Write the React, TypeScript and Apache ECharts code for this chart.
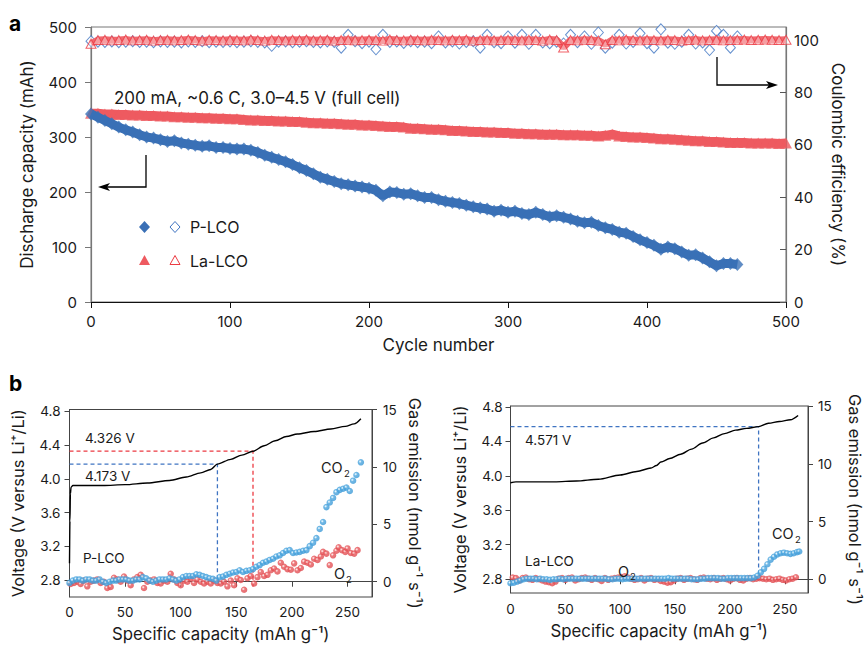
import React, { useEffect, useRef } from "react";
import * as echarts from "echarts";

const FONT = "Inter, 'Liberation Sans', sans-serif";

// ---------------- Panel a data ----------------
const cyclesP = Array.from({ length: 94 }, (_, i) => i * 5);
const cyclesLa = Array.from({ length: 101 }, (_, i) => i * 5);

const dischargeP = [
  342, 336, 330, 324, 318, 313, 309, 304, 300, 298,
  295, 292, 293, 289, 287, 285, 283, 284, 281, 281,
  279, 278, 278, 276, 272, 267, 263, 259, 255, 250,
  244, 239, 233, 227, 223, 219, 215, 213, 211, 209,
  207, 203, 193, 200, 199, 196, 197, 193, 190, 190,
  186, 183, 181, 179, 176, 173, 171, 169, 165, 167,
  163, 165, 161, 159, 163, 159, 155, 157, 154, 151,
  147, 144, 145, 139, 135, 132, 127, 125, 119, 113,
  108, 103, 96, 100, 97, 91, 85, 86, 80, 73,
  66, 70, 70, 68,
];

const dischargeLa = [
  343, 343, 342, 342, 341, 341, 340, 340, 339, 339,
  338, 338, 337, 337, 336, 336, 335, 335, 334, 334,
  333, 333, 332, 331, 331, 330, 330, 329, 329, 328,
  328, 327, 326, 326, 325, 325, 324, 323, 323, 322,
  322, 321, 320, 319, 319, 318, 316, 316, 315, 314,
  314, 313, 312, 312, 311, 310, 310, 309, 309, 308,
  308, 307, 307, 306, 306, 305, 305, 305, 304, 304,
  304, 303, 303, 302, 303, 305, 302, 301, 300, 300,
  299, 298, 297, 297, 296, 295, 294, 293, 293, 292,
  292, 291, 290, 290, 290, 289, 289, 289, 289, 288,
  289,
];

const ceP = [
  99.6, 99.4, 99.3, 99.5, 99.2, 99.4, 99.6, 99.3, 99.4, 99.2,
  99.5, 99.3, 99.4, 99.1, 99.5, 99.3, 99.6, 99.2, 99.4, 99.3,
  99.5, 99.2, 99.4, 99.6, 99.3, 99.1, 97.8, 99.4, 99.5, 99.2,
  99.4, 99.6, 99.3, 99.1, 99.5, 99.3, 97.1, 102.0, 99.6, 98.8,
  99.4, 96.5, 102.0, 99.3, 99.5, 98.9, 99.6, 99.2, 99.4, 98.8,
  101.4, 99.1, 99.5, 98.7, 99.3, 99.6, 97.1, 102.0, 99.2, 98.8,
  101.4, 99.0, 102.0, 98.6, 102.0, 99.1, 98.8, 99.4, 98.7, 102.0,
  99.2, 101.4, 98.6, 102.9, 97.1, 99.0, 102.0, 98.7, 99.3, 102.6,
  98.8, 97.1, 104.1, 99.0, 98.6, 99.4, 102.0, 98.7, 99.1, 96.2,
  103.5, 102.0, 97.1, 101.4,
];

const ceLa = [
  98.6, 100.0, 100.1, 99.9, 100.0, 100.2, 99.9, 100.0, 100.1, 99.8,
  100.0, 100.1, 99.9, 100.0, 100.2, 100.0, 99.8, 100.1, 100.0, 99.9,
  100.1, 100.0, 99.9, 100.2, 100.0, 99.8, 100.1, 100.0, 99.9, 100.1,
  100.0, 100.2, 99.9, 100.0, 100.1, 99.8, 100.0, 100.1, 99.9, 100.0,
  100.1, 100.0, 99.8, 100.2, 100.0, 99.9, 100.1, 100.0, 99.9, 100.1,
  100.0, 99.9, 100.1, 100.0, 100.2, 99.8, 100.0, 100.1, 99.9, 100.0,
  100.1, 100.0, 99.9, 100.1, 100.0, 99.8, 100.2, 100.0, 97.2, 100.0,
  99.9, 100.1, 100.0, 99.8, 98.4, 100.0, 99.9, 100.2, 100.0, 99.9,
  100.1, 100.0, 99.9, 100.1, 100.0, 99.8, 100.0, 100.2, 99.9, 100.0,
  100.1, 99.9, 100.0, 100.1, 100.2, 100.0, 100.1, 100.2, 100.1, 100.0,
  100.1,
];

const ceTicks = [0, 20, 40, 60, 80, 100];

// ---------------- Panel b data ----------------
const voltP = [
  [0, 3.0], [0.4, 3.5], [0.8, 3.82], [1.4, 3.9], [3, 3.92], [15, 3.92], [30, 3.92],
  [50, 3.93], [70, 3.95], [90, 3.98], [105, 4.02], [118, 4.07], [127, 4.11],
  [133, 4.173], [145, 4.23], [155, 4.28], [165, 4.326], [175, 4.39], [185, 4.45],
  [195, 4.5], [205, 4.53], [220, 4.56], [235, 4.59], [248, 4.62], [256, 4.65], [262, 4.71],
];
const co2P = [
  [0, -0.1], [3, 0.1], [6, 0.2], [9, 0.2], [12, 0.1], [15, 0.2], [18, 0.2], [21, 0.1],
  [24, 0.1], [27, 0.2], [30, 0.0], [33, -0.1], [36, 0.0], [39, 0.1], [42, 0.1], [45, 0.2],
  [48, 0.2], [51, 0.2], [54, 0.1], [57, 0.1], [60, 0.2], [63, 0.2], [66, 0.4], [69, 0.3],
  [72, 0.1], [75, 0.0], [78, 0.1], [81, 0.2], [84, 0.2], [87, 0.2], [90, 0.3], [93, 0.2],
  [96, 0.1], [99, 0.2], [102, 0.4], [105, 0.5], [108, 0.5], [111, 0.5], [114, 0.65],
  [117, 0.6], [120, 0.5], [123, 0.4], [126, 0.3], [129, 0.25], [132, 0.1], [135, 0.4],
  [138, 0.45], [141, 0.6], [144, 0.7], [147, 0.8], [150, 0.85], [153, 1.0], [156, 0.85],
  [159, 0.95], [162, 1.0], [165, 1.1], [168, 1.3], [171, 1.45], [174, 1.65], [177, 1.75],
  [180, 1.9], [183, 2.0], [186, 2.2], [189, 2.3], [192, 2.5], [195, 2.7], [198, 2.75],
  [201, 2.5], [204, 2.55], [207, 2.6], [210, 2.7], [213, 2.75], [216, 3.1], [219, 3.4],
  [222, 3.8], [225, 4.6], [228, 5.2], [231, 6.5], [234, 6.9], [237, 7.3], [240, 7.8],
  [243, 8.0], [246, 8.1], [249, 8.2], [252, 7.9], [255, 8.8], [258, 9.3], [262, 10.4],
];
const o2P = [
  [1, -0.2], [4, -0.1], [7, 0.0], [10, -0.2], [13, 0.1], [16, -0.4], [19, 0.0], [22, 0.1],
  [25, 0.2], [28, -0.1], [31, 0.0], [34, -0.55], [37, -0.45], [40, 0.35], [43, 0.2], [46, 0.0],
  [49, 0.45], [52, 0.1], [55, -0.3], [58, 0.2], [61, 0.4], [64, 0.6], [67, -0.55], [70, 0.0],
  [73, 0.1], [76, 0.2], [79, -0.1], [82, -0.15], [85, 0.1], [88, 0.0], [91, 0.7], [94, 0.2],
  [97, -0.1], [100, -0.3], [103, 0.1], [106, 0.0], [109, 0.3], [112, -0.1], [115, 0.2],
  [118, 0.0], [121, -0.15], [124, 0.0], [127, -0.15], [130, 0.1], [133, -0.1], [136, -0.15],
  [139, 0.0], [142, -0.4], [145, 0.1], [148, -0.3], [151, 0.3], [154, 0.15], [157, -0.7],
  [160, 0.3], [163, 0.5], [166, -0.15], [169, 0.4], [172, 0.85], [175, 0.5], [178, 0.6],
  [181, 1.0], [184, 1.15], [187, 0.9], [190, 1.65], [193, 1.3], [196, 1.1], [199, 1.05],
  [202, 1.6], [205, 1.0], [208, 1.2], [211, 1.75], [214, 1.65], [217, 1.5], [220, 2.0],
  [223, 1.9], [226, 2.2], [228, 2.6], [231, 2.45], [234, 1.45], [237, 2.3], [240, 2.7],
  [242, 3.0], [245, 2.75], [248, 2.6], [250, 2.9], [253, 2.5], [256, 2.45], [259, 2.75],
];
const dashBlueP = [[0, 4.173], [133, 4.173], [133, 2.78]];
const dashRedP = [[0, 4.326], [165, 4.326], [165, 2.72]];

const voltLa = [
  [0, 3.92], [5, 3.93], [20, 3.93], [40, 3.93], [60, 3.94], [80, 3.96], [100, 4.01],
  [115, 4.05], [128, 4.09], [133, 4.12], [137, 4.16], [145, 4.2], [155, 4.25], [165, 4.31],
  [175, 4.38], [185, 4.44], [195, 4.49], [205, 4.53], [215, 4.55], [226, 4.571], [235, 4.61],
  [245, 4.63], [255, 4.65], [262, 4.7],
];
const co2La = [
  [0, -0.35], [3, -0.3], [6, -0.2], [9, -0.1], [12, 0.0], [15, 0.05], [18, 0.05], [21, 0.05],
  [24, 0.0], [27, 0.05], [30, 0.0], [33, 0.0], [36, -0.05], [39, 0.0], [42, 0.0], [45, 0.05],
  [48, 0.0], [51, 0.05], [54, 0.05], [57, 0.05], [60, 0.05], [63, 0.05], [66, 0.05],
  [69, 0.05], [72, 0.05], [75, 0.05], [78, 0.05], [81, 0.05], [84, 0.05], [87, 0.05],
  [90, 0.0], [93, 0.0], [96, 0.05], [99, 0.05], [102, 0.0], [105, 0.05], [108, 0.05],
  [111, 0.05], [114, 0.05], [117, 0.05], [120, 0.05], [123, 0.05], [126, 0.05], [129, 0.05],
  [132, 0.05], [135, 0.05], [138, 0.05], [141, 0.05], [144, 0.1], [147, 0.05], [150, 0.05],
  [153, 0.05], [156, 0.05], [159, 0.05], [162, 0.05], [165, 0.0], [168, 0.0], [171, 0.0],
  [174, 0.05], [177, 0.05], [180, 0.1], [183, 0.1], [186, 0.1], [189, 0.1], [192, 0.05],
  [195, 0.05], [198, 0.1], [201, 0.1], [204, 0.1], [207, 0.1], [210, 0.1], [213, 0.1],
  [216, 0.1], [219, 0.1], [222, 0.15], [225, 0.3], [228, 0.6], [231, 0.9], [234, 1.3],
  [237, 1.7], [240, 1.95], [243, 2.15], [246, 2.25], [249, 2.3], [252, 2.25], [255, 2.2],
  [258, 2.25], [261, 2.35], [263, 2.4],
];
const o2La = [
  [2, 0.15], [5, 0.1], [8, -0.1], [11, 0.1], [14, 0.15], [17, 0.0], [20, -0.05], [23, 0.1],
  [26, 0.0], [29, -0.1], [32, -0.2], [35, -0.25], [38, -0.35], [41, -0.2], [44, 0.05],
  [47, 0.1], [50, -0.05], [53, 0.1], [56, 0.15], [59, -0.1], [62, 0.0], [65, 0.1], [68, 0.15],
  [71, 0.05], [74, -0.05], [77, 0.1], [80, 0.0], [83, -0.15], [86, 0.1], [89, -0.05],
  [92, 0.05], [95, 0.1], [98, 0.15], [101, 0.2], [104, 0.25], [107, 0.15], [110, 0.05],
  [113, -0.05], [116, 0.0], [119, 0.1], [122, -0.1], [125, 0.05], [128, 0.1], [131, -0.05],
  [134, 0.0], [137, -0.15], [140, -0.2], [143, -0.3], [146, -0.25], [149, -0.1], [152, 0.05],
  [155, 0.1], [158, -0.05], [161, 0.05], [164, 0.1], [167, 0.0], [170, -0.05], [173, 0.1],
  [176, 0.15], [179, 0.05], [182, 0.0], [185, 0.1], [188, -0.05], [191, 0.05], [194, 0.1],
  [197, 0.0], [200, -0.1], [203, 0.05], [206, 0.1], [209, -0.05], [212, -0.1], [215, 0.05],
  [218, 0.1], [221, 0.0], [224, 0.05], [227, 0.1], [230, 0.05], [233, 0.0], [236, 0.05],
  [239, -0.05], [242, 0.0], [245, 0.05], [248, -0.05], [251, -0.1], [254, 0.0], [257, 0.05],
  [260, 0.17],
];
const dashBlueLa = [[0, 4.571], [226, 4.571], [226, 2.86]];

const capTicksB = [0, 50, 100, 150, 200, 250];
const voltTicks = [2.8, 3.2, 3.6, 4.0, 4.4, 4.8];
const gasTicks = [0, 5, 10, 15];

// ---------------- colours ----------------
const BLUE = "#3a70b6";
const RED = "#ee5a60";
const RED_LINE = "#ec3a42";
const BLUE_LINE = "#3f74c2";

const dotBlue = () =>
  new echarts.graphic.RadialGradient(0.38, 0.38, 0.62, [
    { offset: 0, color: "#f4fbff" },
    { offset: 0.16, color: "#b7dff6" },
    { offset: 0.38, color: "#4ea7df" },
    { offset: 1, color: "#3a98d6" },
  ]);
const dotRed = () =>
  new echarts.graphic.RadialGradient(0.38, 0.38, 0.62, [
    { offset: 0, color: "#fff4f4" },
    { offset: 0.16, color: "#f7bcbc" },
    { offset: 0.38, color: "#e8585c" },
    { offset: 1, color: "#df4a4f" },
  ]);

function txt(x: number, y: number, text: string, size: number, opts: any = {}) {
  return {
    type: "text",
    x,
    y,
    z: 100,
    style: {
      text,
      font: `${opts.weight || "normal"} ${size}px ${FONT}`,
      fill: opts.color || "#1a1a1a",
      align: opts.align || "left",
      textAlign: opts.align || "left",
      verticalAlign: "middle",
      textVerticalAlign: "middle",
    },
  };
}

const diamondPts = (cx: number, cy: number, w: number, h: number) => [
  [cx, cy - h / 2], [cx + w / 2, cy], [cx, cy + h / 2], [cx - w / 2, cy],
];
const trianglePts = (cx: number, cy: number, w: number, h: number) => [
  [cx, cy - h / 2], [cx + w / 2, cy + h / 2], [cx - w / 2, cy + h / 2],
];

export default function App() {
  const ref = useRef<HTMLDivElement>(null);
  useEffect(() => {
    if (!ref.current) return;
    const chart = echarts.init(ref.current, undefined, { renderer: "svg" });

    const tickLabel = (size: number, margin: number, fmt?: (v: number) => string, custom?: number[]) => ({
      fontSize: size,
      fontFamily: FONT,
      color: "#1a1a1a",
      margin,
      formatter: fmt,
      customValues: custom,
    });

    const dataP = cyclesP.map((c, i) => [c, dischargeP[i]]);
    const dataLa = cyclesLa.map((c, i) => [c, dischargeLa[i]]);
    const dataCeLa = cyclesLa.map((c, i) => [c, ceLa[i]]);

    const option: any = {
      animation: false,
      textStyle: { fontFamily: FONT },
      grid: [
        { left: 91, right: 78, top: 27, bottom: 347, show: true, borderColor: "#777", borderWidth: 1, backgroundColor: "transparent" },
        { left: 69.5, right: 492, top: 409.5, bottom: 52, show: true, borderColor: "#444", borderWidth: 1, backgroundColor: "transparent" },
        { left: 510.5, right: 54, top: 406, bottom: 56, show: true, borderColor: "#444", borderWidth: 1, backgroundColor: "transparent" },
      ],
      xAxis: [
        {
          gridIndex: 0, type: "value", min: 0, max: 500, interval: 100,
          name: "Cycle number", nameLocation: "middle", nameGap: 34,
          nameTextStyle: { fontSize: 17, color: "#1a1a1a", fontFamily: FONT },
          axisLine: { lineStyle: { color: "#111", width: 1.2 } },
          axisTick: { length: 6, lineStyle: { color: "#111" } },
          axisLabel: tickLabel(15, 12),
          splitLine: { show: false },
        },
        {
          gridIndex: 1, type: "value", min: 0, max: 272,
          name: "Specific capacity (mAh g⁻¹)", nameLocation: "middle", nameGap: 28,
          nameTextStyle: { fontSize: 16.8, color: "#1a1a1a", fontFamily: FONT },
          axisLine: { lineStyle: { color: "#444" } },
          axisTick: { length: 5, lineStyle: { color: "#444" }, customValues: capTicksB },
          axisLabel: tickLabel(13.5, 8, undefined, capTicksB),
          splitLine: { show: false },
        },
        {
          gridIndex: 2, type: "value", min: 0, max: 271,
          name: "Specific capacity (mAh g⁻¹)", nameLocation: "middle", nameGap: 29,
          nameTextStyle: { fontSize: 16.8, color: "#1a1a1a", fontFamily: FONT },
          axisLine: { lineStyle: { color: "#444" } },
          axisTick: { length: 5, lineStyle: { color: "#444" }, customValues: capTicksB },
          axisLabel: tickLabel(13.5, 9, undefined, capTicksB),
          splitLine: { show: false },
        },
      ],
      yAxis: [
        {
          gridIndex: 0, type: "value", position: "left", min: 0, max: 500, interval: 100,
          name: "Discharge capacity (mAh)", nameLocation: "middle", nameGap: 56,
          nameTextStyle: { fontSize: 17, color: "#1a1a1a", fontFamily: FONT },
          axisLine: { show: true, lineStyle: { color: "#777", width: 1.2 } },
          axisTick: { show: true, length: 6, lineStyle: { color: "#777" } },
          axisLabel: tickLabel(15, 14),
          splitLine: { show: false },
        },
        {
          gridIndex: 0, type: "value", position: "right", min: 0, max: 105,
          name: "Coulombic efficiency (%)", nameLocation: "middle", nameGap: 43, nameRotate: -90,
          nameTextStyle: { fontSize: 17, color: "#1a1a1a", fontFamily: FONT },
          axisLine: { show: true, lineStyle: { color: "#777", width: 1.2 } },
          axisTick: { show: true, inside: true, length: 6, lineStyle: { color: "#555" }, customValues: ceTicks },
          axisLabel: tickLabel(15, 8, undefined, ceTicks),
          splitLine: { show: false },
        },
        {
          gridIndex: 1, type: "value", position: "left", min: 2.6, max: 4.82,
          name: "Voltage (V versus Li⁺/Li)", nameLocation: "middle", nameGap: 43,
          nameTextStyle: { fontSize: 16.5, color: "#1a1a1a", fontFamily: FONT },
          axisLine: { show: true, lineStyle: { color: "#444" } },
          axisTick: { show: true, length: 5, lineStyle: { color: "#444" }, customValues: voltTicks },
          axisLabel: tickLabel(13.5, 9, (v: number) => v.toFixed(1), voltTicks),
          splitLine: { show: false },
        },
        {
          gridIndex: 1, type: "value", position: "right", min: -1.33, max: 15,
          name: "Gas emission (nmol g⁻¹ s⁻¹)", nameLocation: "middle", nameGap: 34, nameRotate: -90,
          nameTextStyle: { fontSize: 16.5, color: "#1a1a1a", fontFamily: FONT },
          axisLine: { show: true, lineStyle: { color: "#444" } },
          axisTick: { show: true, length: 5, lineStyle: { color: "#444" }, customValues: gasTicks },
          axisLabel: tickLabel(13.5, 11, undefined, gasTicks),
          splitLine: { show: false },
        },
        {
          gridIndex: 2, type: "value", position: "left", min: 2.64, max: 4.81,
          name: "Voltage (V versus Li⁺/Li)", nameLocation: "middle", nameGap: 42,
          nameTextStyle: { fontSize: 16.5, color: "#1a1a1a", fontFamily: FONT },
          axisLine: { show: true, lineStyle: { color: "#444" } },
          axisTick: { show: true, length: 5, lineStyle: { color: "#444" }, customValues: voltTicks },
          axisLabel: tickLabel(13.5, 8, (v: number) => v.toFixed(1), voltTicks),
          splitLine: { show: false },
        },
        {
          gridIndex: 2, type: "value", position: "right", min: -1.19, max: 15,
          name: "Gas emission (nmol g⁻¹ s⁻¹)", nameLocation: "middle", nameGap: 38, nameRotate: -90,
          nameTextStyle: { fontSize: 16.5, color: "#1a1a1a", fontFamily: FONT },
          axisLine: { show: true, lineStyle: { color: "#444" } },
          axisTick: { show: true, length: 5, lineStyle: { color: "#444" }, customValues: gasTicks },
          axisLabel: tickLabel(13.5, 10, undefined, gasTicks),
          splitLine: { show: false },
        },
      ],
      series: [
        // Panel a
        {
          name: "P-LCO CE", type: "scatter", xAxisIndex: 0, yAxisIndex: 1,
          data: cyclesP.map((c, i) => [c, ceP[i]]),
          symbol: "diamond", symbolSize: [10, 11],
          itemStyle: { color: "#ffffff", borderColor: BLUE_LINE, borderWidth: 1 },
          z: 2,
        },
        {
          name: "La-LCO CE band", type: "line", xAxisIndex: 0, yAxisIndex: 1,
          data: dataCeLa, showSymbol: false,
          lineStyle: { color: "#f0686e", width: 7 }, z: 3,
        },
        {
          name: "La-LCO CE", type: "scatter", xAxisIndex: 0, yAxisIndex: 1,
          data: dataCeLa,
          symbol: "triangle", symbolSize: [10, 9],
          itemStyle: { color: "rgba(255,255,255,0.45)", borderColor: RED_LINE, borderWidth: 1 },
          z: 3,
        },
        {
          name: "La-LCO band", type: "line", xAxisIndex: 0, yAxisIndex: 0,
          data: dataLa, showSymbol: false,
          lineStyle: { color: RED, width: 9 }, z: 3,
        },
        {
          name: "La-LCO", type: "scatter", xAxisIndex: 0, yAxisIndex: 0,
          data: dataLa,
          symbol: "triangle", symbolSize: [12, 11],
          itemStyle: { color: RED },
          z: 3,
        },
        {
          name: "P-LCO band", type: "line", xAxisIndex: 0, yAxisIndex: 0,
          data: dataP, showSymbol: false,
          lineStyle: { color: BLUE, width: 9 }, z: 4,
        },
        {
          name: "P-LCO", type: "scatter", xAxisIndex: 0, yAxisIndex: 0,
          data: dataP,
          symbol: "diamond", symbolSize: [12, 13],
          itemStyle: { color: BLUE },
          z: 4,
        },
        // Panel b left
        {
          name: "P-LCO voltage", type: "line", xAxisIndex: 1, yAxisIndex: 2,
          data: voltP, showSymbol: false, smooth: 0.3, smoothMonotone: "x",
          lineStyle: { color: "#000", width: 1.4 }, z: 3,
        },
        {
          name: "P-LCO 4.173", type: "line", xAxisIndex: 1, yAxisIndex: 2, data: dashBlueP,
          showSymbol: false, lineStyle: { color: BLUE_LINE, width: 1.3, type: [4, 3] }, z: 2,
        },
        {
          name: "P-LCO 4.326", type: "line", xAxisIndex: 1, yAxisIndex: 2, data: dashRedP,
          showSymbol: false, lineStyle: { color: RED_LINE, width: 1.3, type: [4, 3] }, z: 2,
        },
        {
          name: "P-LCO O2", type: "scatter", xAxisIndex: 1, yAxisIndex: 3, data: o2P,
          symbol: "circle", symbolSize: 6.5, itemStyle: { color: dotRed() }, z: 4,
        },
        {
          name: "P-LCO CO2", type: "scatter", xAxisIndex: 1, yAxisIndex: 3, data: co2P,
          symbol: "circle", symbolSize: 6.5, itemStyle: { color: dotBlue() }, z: 5,
        },
        // Panel b right
        {
          name: "La-LCO voltage", type: "line", xAxisIndex: 2, yAxisIndex: 4,
          data: voltLa, showSymbol: false, smooth: 0.3, smoothMonotone: "x",
          lineStyle: { color: "#000", width: 1.4 }, z: 3,
        },
        {
          name: "La-LCO 4.571", type: "line", xAxisIndex: 2, yAxisIndex: 4, data: dashBlueLa,
          showSymbol: false, lineStyle: { color: BLUE_LINE, width: 1.3, type: [4, 3] }, z: 2,
        },
        {
          name: "La-LCO O2", type: "scatter", xAxisIndex: 2, yAxisIndex: 5, data: o2La,
          symbol: "circle", symbolSize: 6.5, itemStyle: { color: dotRed() }, z: 4,
        },
        {
          name: "La-LCO CO2", type: "scatter", xAxisIndex: 2, yAxisIndex: 5, data: co2La,
          symbol: "circle", symbolSize: 6.5, itemStyle: { color: dotBlue() }, z: 5,
        },
      ],
      graphic: [
        txt(9, 23, "a", 21, { weight: "bold", color: "#000" }),
        txt(9, 383, "b", 21, { weight: "bold", color: "#000" }),
        txt(114, 98, "200 mA, ~0.6 C, 3.0–4.5 V (full cell)", 17),
        // arrows panel a
        {
          type: "polyline", z: 100,
          shape: { points: [[146, 155], [146, 187], [106, 187]] },
          style: { stroke: "#000", lineWidth: 1.3, fill: null },
        },
        {
          type: "polygon", z: 100,
          shape: { points: [[98, 187], [110, 183], [107, 187], [110, 191]] },
          style: { fill: "#000" },
        },
        {
          type: "polyline", z: 100,
          shape: { points: [[717, 57], [717, 85], [770, 85]] },
          style: { stroke: "#000", lineWidth: 1.3, fill: null },
        },
        {
          type: "polygon", z: 100,
          shape: { points: [[778, 85], [766, 81], [769, 85], [766, 89]] },
          style: { fill: "#000" },
        },
        // legend panel a
        { type: "polygon", z: 100, shape: { points: diamondPts(144.5, 227, 11, 12) }, style: { fill: BLUE } },
        { type: "polygon", z: 100, shape: { points: diamondPts(175, 227, 10, 11) }, style: { fill: "#fff", stroke: BLUE_LINE, lineWidth: 1 } },
        txt(190, 227, "P-LCO", 16),
        { type: "polygon", z: 100, shape: { points: trianglePts(144.5, 260, 11, 10) }, style: { fill: RED } },
        { type: "polygon", z: 100, shape: { points: trianglePts(175, 260, 10, 9) }, style: { fill: "#fff", stroke: RED_LINE, lineWidth: 1 } },
        txt(190, 261, "La-LCO", 16),
        // panel b left annotations
        txt(85, 438, "4.326 V", 13.5),
        txt(85, 476, "4.173 V", 13.5),
        txt(321, 467, "CO", 14.5),
        txt(344, 473, "2", 9.5),
        txt(334, 573, "O", 14.5),
        txt(346, 579, "2", 9.5),
        txt(83, 558, "P-LCO", 13.5),
        // panel b right annotations
        txt(525, 440, "4.571 V", 13.5),
        txt(772, 533, "CO", 14.5),
        txt(795, 539, "2", 9.5),
        txt(618, 571, "O", 14.5),
        txt(630, 576, "2", 9.5),
        txt(525, 561, "La-LCO", 13.5),
      ],
    };

    chart.setOption(option);
    return () => chart.dispose();
  }, []);

  return (
    <div
      ref={ref}
      style={{ position: "absolute", left: 0, top: 0, width: 864, height: 649, background: "#fff" }}
    />
  );
}
